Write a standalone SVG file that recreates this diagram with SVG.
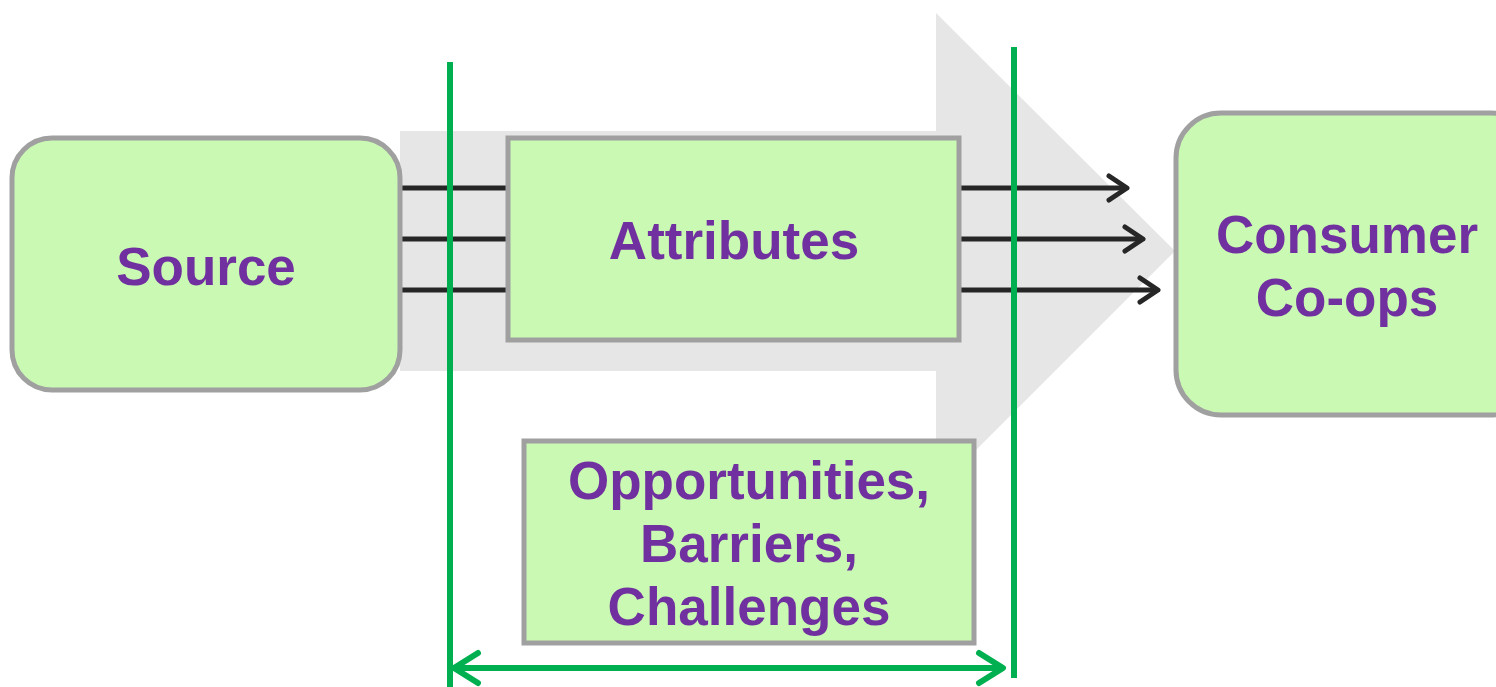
<svg xmlns="http://www.w3.org/2000/svg" width="1496" height="687" viewBox="0 0 1496 687">
  <style>
    .box { fill: #C9F9B2; stroke: #A0A0A0; stroke-width: 5; }
    .label { font-family: "Liberation Sans", Arial, sans-serif; font-weight: bold; font-size: 53px; fill: #7030A0; text-anchor: middle; }
    .flow { stroke: #262626; stroke-width: 5; fill: none; }
    .span { stroke: #00B050; stroke-width: 6; fill: none; }
  </style>
  <defs>
    <marker id="chevron-dark" viewBox="-26 -16 32 32" markerWidth="32" markerHeight="32" refX="0" refY="0" markerUnits="userSpaceOnUse" orient="auto">
      <path d="M-18,-12 L0,0 L-18,12" fill="none" stroke="#262626" stroke-width="5" stroke-linecap="round" stroke-linejoin="round"/>
    </marker>
    <marker id="chevron-green" viewBox="-32 -20 38 40" markerWidth="38" markerHeight="40" refX="0" refY="0" markerUnits="userSpaceOnUse" orient="auto-start-reverse">
      <path d="M-24,-15 L0,0 L-24,15" fill="none" stroke="#00B050" stroke-width="6" stroke-linecap="round" stroke-linejoin="round"/>
    </marker>
  </defs>

  <rect width="1496" height="687" fill="#FFFFFF"/>

  <!-- wide background arrow -->
  <polygon points="400,131 936,131 936,13 1175,251 936,490 936,371 400,371" fill="#E6E6E6"/>

  <!-- connectors -->
  <g id="connectors">
    <line class="flow" x1="400" y1="188" x2="508" y2="188"/>
    <line class="flow" x1="400" y1="239" x2="508" y2="239"/>
    <line class="flow" x1="400" y1="290" x2="508" y2="290"/>
    <line class="flow" x1="959" y1="188" x2="1127" y2="188" marker-end="url(#chevron-dark)"/>
    <line class="flow" x1="959" y1="239" x2="1143" y2="239" marker-end="url(#chevron-dark)"/>
    <line class="flow" x1="959" y1="290" x2="1158" y2="290" marker-end="url(#chevron-dark)"/>
  </g>

  <!-- span markers with double-headed range arrow -->
  <g id="span">
    <line class="span" x1="450" y1="62" x2="450" y2="687"/>
    <line class="span" x1="1014" y1="47" x2="1014" y2="678"/>
    <line class="span" x1="454" y1="668" x2="1003" y2="668" marker-start="url(#chevron-green)" marker-end="url(#chevron-green)"/>
  </g>

  <g id="source">
    <rect class="box" x="12" y="138" width="388" height="252" rx="40" ry="40"/>
    <text class="label" x="206" y="285">Source</text>
  </g>

  <g id="attributes">
    <rect class="box" x="508" y="138" width="451" height="202"/>
    <text class="label" x="734" y="259">Attributes</text>
  </g>

  <g id="consumer">
    <rect class="box" x="1176" y="113" width="360" height="302" rx="45" ry="45"/>
    <text class="label" x="1347" y="253">Consumer</text>
    <text class="label" x="1347" y="316">Co-ops</text>
  </g>

  <g id="factors">
    <rect class="box" x="524" y="441" width="450" height="202"/>
    <text class="label" x="749" y="499">Opportunities,</text>
    <text class="label" x="749" y="562">Barriers,</text>
    <text class="label" x="749" y="625">Challenges</text>
  </g>
</svg>
